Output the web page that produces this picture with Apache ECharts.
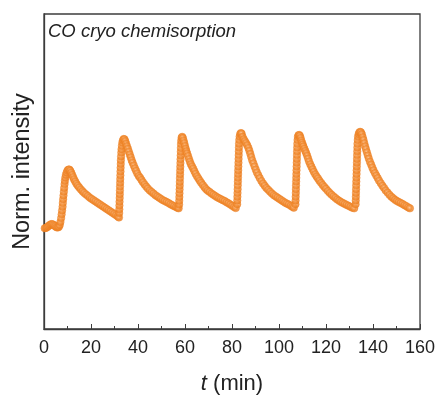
<!DOCTYPE html>
<html>
<head>
<meta charset="utf-8">
<title>CO cryo chemisorption</title>
<script src="https://cdn.jsdelivr.net/npm/echarts@6/dist/echarts.min.js"></script>
<style>
  html, body { margin: 0; padding: 0; background: #ffffff; }
  #chart { width: 438px; height: 396px; }
</style>
</head>
<body>
<div id="chart"></div>
<script>
// Normalised CO signal during repeated cryogenic pulses: [t (min), intensity (a.u., 0-100)]
const baselineAndPulse1 = [
  [0.3,32.0],[0.8,32.1],[1.3,32.3],[1.8,32.6],[2.3,32.9],[2.8,33.2],[3.3,33.3],[3.8,33.2],
  [4.3,32.9],[4.8,32.6],[5.3,32.3],[5.8,32.2],[6.3,32.4],[6.7,33.0],[7.0,34.0],[7.3,35.2],
  [7.5,36.4],[7.7,37.6],[7.9,38.8],[8.0,40.0],[8.15,41.2],[8.3,42.4],[8.45,43.6],[8.6,44.8],
  [8.75,46.0],[8.9,47.1],[9.1,48.1],[9.35,49.0],[9.65,49.7],[10.0,50.3],[10.4,50.6],[10.8,50.6],
  [11.2,50.2],[11.6,49.6],[12.0,48.9],[12.4,48.2],[12.8,47.5],[13.3,46.8],[13.8,46.1],[14.4,45.5],
  [15.0,44.9],[15.7,44.3],[16.4,43.7],[17.1,43.2],[17.9,42.7],[18.7,42.2],[19.5,41.7],[20.3,41.3],
  [21.1,40.9],[21.9,40.5],[22.7,40.1],[23.5,39.7],[24.3,39.3],[25.1,38.9],[25.9,38.5],[26.7,38.1],
  [27.5,37.7],[28.3,37.3],[29.1,36.9],[29.9,36.5],[30.7,36.1],[31.4,35.7],[31.9,35.4]
];

const pulse2 = [
  [32.0,36.8],[32.05,38.0],[32.1,39.2],[32.15,40.4],[32.2,41.6],[32.25,42.8],[32.3,44.0],[32.35,45.2],
  [32.4,46.4],[32.45,47.6],[32.5,48.8],[32.55,50.0],[32.6,51.2],[32.65,52.4],[32.7,53.6],[32.8,54.8],
  [32.9,56.0],[33.0,57.1],[33.15,58.2],[33.35,59.2],[33.6,59.9],[33.9,60.3],[34.25,60.2],[34.6,59.6],
  [34.95,58.8],[35.3,58.0],[35.7,57.2],[36.1,56.3],[36.5,55.4],[36.9,54.5],[37.3,53.6],[37.7,52.8],
  [38.2,51.9],[38.7,51.0],[39.2,50.2],[39.7,49.4],[40.3,48.6],[40.9,48.0],[41.5,47.3],[42.1,46.6],
  [42.8,45.9],[43.5,45.2],[44.2,44.6],[45.0,44.0],[45.8,43.5],[46.6,43.0],[47.4,42.5],[48.2,42.1],
  [49.0,41.7],[49.8,41.3],[50.6,40.9],[51.4,40.6],[52.2,40.3],[53.0,40.0],[53.8,39.6],[54.6,39.3],
  [55.4,39.0],[56.2,38.7],[56.8,38.5],[57.3,38.3]
];

const pulse3 = [
  [57.5,39.5],[57.55,40.7],[57.6,41.9],[57.65,43.1],[57.7,44.3],[57.75,45.5],[57.8,46.7],[57.85,47.9],
  [57.9,49.1],[57.95,50.3],[58.0,51.5],[58.05,52.7],[58.1,53.9],[58.15,55.1],[58.2,56.3],[58.25,57.5],
  [58.3,58.7],[58.4,59.8],[58.55,60.7],[58.8,61.0],[59.1,60.6],[59.4,59.8],[59.7,59.0],[60.0,58.1],
  [60.3,57.2],[60.6,56.4],[60.9,55.7],[61.3,54.9],[61.7,54.0],[62.1,53.1],[62.5,52.3],[63.0,51.6],
  [63.5,50.9],[64.0,50.1],[64.5,49.3],[65.1,48.5],[65.7,47.8],[66.3,47.1],[66.9,46.4],[67.6,45.7],
  [68.3,45.0],[69.0,44.4],[69.7,43.9],[70.5,43.5],[71.3,43.0],[72.1,42.6],[72.9,42.2],[73.7,41.8],
  [74.5,41.5],[75.3,41.2],[76.1,40.9],[76.9,40.6],[77.7,40.2],[78.5,39.9],[79.3,39.5],[80.1,39.1],
  [80.9,38.7],[81.6,38.4]
];

const pulse4 = [
  [82.2,39.6],[82.25,40.8],[82.3,42.0],[82.35,43.2],[82.4,44.4],[82.45,45.6],[82.5,46.8],[82.55,48.0],
  [82.6,49.2],[82.65,50.4],[82.7,51.6],[82.75,52.8],[82.8,54.0],[82.85,55.2],[82.9,56.4],[82.95,57.6],
  [83.0,58.8],[83.1,60.0],[83.25,61.1],[83.5,61.9],[83.8,62.2],[84.1,62.0],[84.5,61.0],[85.0,60.2],
  [85.5,59.6],[86.0,59.0],[86.5,58.3],[87.0,57.5],[87.4,56.6],[87.8,55.6],[88.2,54.6],[88.6,53.6],
  [89.1,52.6],[89.6,51.6],[90.1,50.6],[90.6,49.7],[91.2,48.8],[91.8,47.9],[92.5,47.0],[93.2,46.2],
  [93.9,45.5],[94.6,44.8],[95.4,44.2],[96.2,43.6],[97.0,43.0],[97.8,42.5],[98.6,42.1],[99.4,41.7],
  [100.2,41.3],[101.0,40.9],[101.8,40.5],[102.6,40.1],[103.4,39.8],[104.2,39.5],[105.0,39.1],
  [105.7,38.8],[106.3,38.5]
];

const pulse5 = [
  [107.0,39.6],[107.05,40.8],[107.1,42.0],[107.15,43.2],[107.2,44.4],[107.25,45.6],[107.3,46.8],
  [107.35,48.0],[107.4,49.2],[107.45,50.4],[107.5,51.6],[107.55,52.8],[107.6,54.0],[107.65,55.2],
  [107.7,56.4],[107.75,57.6],[107.8,58.8],[107.9,60.0],[108.05,61.0],[108.3,61.5],[108.6,61.6],
  [108.9,61.3],[109.2,60.6],[109.5,59.8],[109.8,59.1],[110.1,58.5],[110.4,57.9],[110.8,57.2],
  [111.2,56.5],[111.6,55.8],[112.0,55.0],[112.4,54.1],[112.8,53.2],[113.3,52.3],[113.8,51.5],
  [114.3,50.7],[114.8,49.9],[115.4,49.1],[116.0,48.4],[116.6,47.8],[117.2,47.1],[117.9,46.4],
  [118.6,45.7],[119.3,45.1],[120.0,44.5],[120.8,43.8],[121.6,43.2],[122.4,42.6],[123.2,42.1],
  [124.0,41.6],[124.8,41.1],[125.6,40.7],[126.4,40.3],[127.2,40.0],[128.0,39.7],[128.8,39.4],
  [129.6,39.1],[130.4,38.8],[131.2,38.5],[132.0,38.3]
];

const pulse6 = [
  [132.6,39.6],[132.65,40.8],[132.7,42.0],[132.75,43.2],[132.8,44.4],[132.85,45.6],[132.9,46.8],
  [132.95,48.0],[133.0,49.2],[133.05,50.4],[133.1,51.6],[133.15,52.8],[133.2,54.0],[133.25,55.2],
  [133.3,56.4],[133.35,57.6],[133.4,58.8],[133.5,60.0],[133.65,61.1],[133.9,61.9],[134.2,62.4],
  [134.55,62.6],[134.9,62.4],[135.25,61.8],[135.6,60.9],[135.95,60.0],[136.3,59.0],[136.65,58.0],
  [137.0,57.1],[137.4,56.1],[137.8,55.1],[138.2,54.1],[138.7,53.1],[139.2,52.2],[139.7,51.3],
  [140.2,50.4],[140.8,49.5],[141.4,48.7],[142.0,47.9],[142.6,47.1],[143.3,46.3],[144.0,45.5],
  [144.7,44.8],[145.4,44.0],[146.2,43.3],[147.0,42.6],[147.8,42.0],[148.6,41.5],[149.4,41.0],
  [150.2,40.6],[151.0,40.3],[151.8,40.0],[152.6,39.7],[153.4,39.3],[154.2,39.0],[155.0,38.6],
  [155.7,38.3]
];

const xTicks = [0, 20, 40, 60, 80, 100, 120, 140, 160];

const signal = [].concat(baselineAndPulse1, pulse2, pulse3, pulse4, pulse5, pulse6);

const FONT = '"Liberation Sans", Arial, Helvetica, sans-serif';
const AXIS = '#3c3c3c';
const TEXT = '#222222';

const chart = echarts.init(document.getElementById('chart'), null, { renderer: 'canvas' });

chart.setOption({
  animation: false,
  backgroundColor: '#ffffff',
  title: {
    text: 'CO cryo chemisorption',
    left: 48,
    top: 22,
    padding: 0,
    textStyle: {
      fontFamily: FONT,
      fontSize: 18.5,
      fontStyle: 'italic',
      fontWeight: 'normal',
      color: TEXT
    }
  },
  grid: {
    left: 44,
    right: 18,
    top: 14,
    bottom: 67,
    show: true,
    borderColor: AXIS,
    borderWidth: 1.3,
    containLabel: false,
    outerBoundsMode: 'none'
  },
  xAxis: {
    type: 'value',
    min: xTicks[0],
    max: xTicks[xTicks.length - 1],
    interval: xTicks[1] - xTicks[0],
    name: '{it|t} (min)',
    nameLocation: 'middle',
    nameGap: 44,
    nameTextStyle: {
      fontFamily: FONT,
      fontSize: 22,
      color: TEXT,
      rich: {
        it: { fontFamily: FONT, fontSize: 22, fontStyle: 'italic', color: TEXT }
      }
    },
    axisLine: { show: true, onZero: false, lineStyle: { color: AXIS, width: 1.3 } },
    axisTick: { show: true, inside: true, length: 5, lineStyle: { color: AXIS, width: 1 } },
    minorTick: { show: true, splitNumber: 2, length: 3, lineStyle: { color: AXIS, width: 1 } },
    splitLine: { show: false },
    axisLabel: {
      fontFamily: FONT,
      fontSize: 18,
      color: TEXT,
      margin: 10,
      formatter: v => (xTicks.includes(v) ? String(v) : '')
    }
  },
  yAxis: {
    type: 'value',
    min: 0,
    max: 100,
    name: 'Norm. intensity',
    nameLocation: 'middle',
    nameGap: 9,
    nameTextStyle: { fontFamily: FONT, fontSize: 23.5, color: TEXT },
    axisLine: { show: true, onZero: false, lineStyle: { color: AXIS, width: 1.3 } },
    axisTick: { show: false },
    axisLabel: { show: false },
    splitLine: { show: false }
  },
  series: [{
    type: 'scatter',
    data: signal,
    symbol: 'circle',
    symbolSize: 7.5,
    itemStyle: {
      color: {
        type: 'radial', x: 0.45, y: 0.42, r: 0.55,
        colorStops: [
          { offset: 0, color: '#fcd9b4' },
          { offset: 0.3, color: '#f7a25a' },
          { offset: 0.65, color: '#f08a2e' },
          { offset: 1, color: '#eb7b1e' }
        ]
      },
      borderColor: '#ee8226',
      borderWidth: 0.5
    },
    z: 3
  }]
});
</script>
</body>
</html>
